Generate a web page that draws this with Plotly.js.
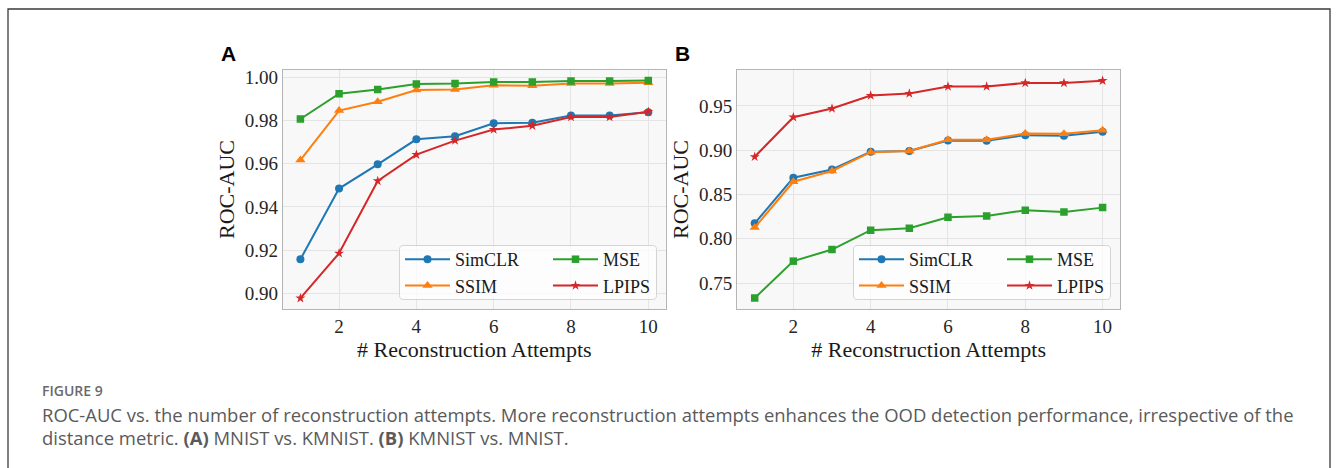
<!DOCTYPE html>
<html><head><meta charset="utf-8">
<script src="https://cdn.plot.ly/plotly-3.0.1.min.js"></script>
<style>html,body{margin:0;padding:0;background:#fff}#chart{width:1336px;height:468px}</style>
</head><body><div id="chart"></div>
<script>
// ---- data ----
const attempts = [1, 2, 3, 4, 5, 6, 7, 8, 9, 10];
const xTickVals = [2, 4, 6, 8, 10];
const seriesNames = ['SimCLR', 'SSIM', 'MSE', 'LPIPS'];
// Panel A: MNIST vs. KMNIST
const aSimCLR = [0.9157, 0.9485, 0.9597, 0.9713, 0.9727, 0.9787, 0.9790, 0.9823, 0.9823, 0.9838];
const aSSIM   = [0.9617, 0.9846, 0.9887, 0.9941, 0.9944, 0.9963, 0.9961, 0.9971, 0.9971, 0.9975];
const aMSE    = [0.9807, 0.9924, 0.9944, 0.9969, 0.9971, 0.9978, 0.9978, 0.9983, 0.9983, 0.9985];
const aLPIPS  = [0.8977, 0.9185, 0.9520, 0.9642, 0.9707, 0.9758, 0.9776, 0.9816, 0.9816, 0.9841];
// Panel B: KMNIST vs. MNIST
const bSimCLR = [0.8175, 0.8689, 0.8783, 0.8982, 0.8990, 0.9110, 0.9106, 0.9170, 0.9162, 0.9207];
const bSSIM   = [0.8127, 0.8644, 0.8765, 0.8978, 0.8990, 0.9117, 0.9117, 0.9189, 0.9185, 0.9226];
const bMSE    = [0.7331, 0.7748, 0.7879, 0.8097, 0.8119, 0.8243, 0.8258, 0.8322, 0.8303, 0.8352];
const bLPIPS  = [0.8926, 0.9372, 0.9470, 0.9616, 0.9639, 0.9718, 0.9718, 0.9759, 0.9759, 0.9785];
const panelLabels = ['A', 'B'];
const xTitle = '# Reconstruction Attempts';
const yTitle = 'ROC-AUC';
const figLabel = 'FIGURE 9';
const captionLine1 = 'ROC-AUC vs. the number of reconstruction attempts. More reconstruction attempts enhances the OOD detection performance, irrespective of the';
const captionLine2 = 'distance metric. <b>(A)</b> MNIST vs. KMNIST. <b>(B)</b> KMNIST vs. MNIST.';

// ---- styling ----
const W = 1336, H = 468;
const px = x => x / W;
const py = y => 1 - y / H;
const colors = ['#1f77b4', '#ff7f0e', '#2ca02c', '#d62728'];
const symbols = ['circle', 'triangle-up', 'square', 'star'];
const msizes = [8, 9, 7.5, 7.5];
const serif = 'Liberation Serif, Times New Roman, serif';

function mk(x, y, i, xa, ya, legend) {
  return {
    type: 'scatter', mode: 'lines+markers', x: x, y: y, name: seriesNames[i],
    xaxis: xa, yaxis: ya, legend: legend,
    line: {color: colors[i], width: 2},
    marker: {color: colors[i], symbol: symbols[i], size: msizes[i], line: {width: 0}},
    hoverinfo: 'x+y+name'
  };
}
const traces = [
  mk(attempts, aSimCLR, 0, 'x', 'y', 'legend'),
  mk(attempts, aSSIM, 1, 'x', 'y', 'legend'),
  mk(attempts, aMSE, 2, 'x', 'y', 'legend2'),
  mk(attempts, aLPIPS, 3, 'x', 'y', 'legend2'),
  mk(attempts, bSimCLR, 0, 'x2', 'y2', 'legend3'),
  mk(attempts, bSSIM, 1, 'x2', 'y2', 'legend3'),
  mk(attempts, bMSE, 2, 'x2', 'y2', 'legend4'),
  mk(attempts, bLPIPS, 3, 'x2', 'y2', 'legend4')
];

function xAxis(domain, anchor) {
  return {
    domain: domain, anchor: anchor, range: [0.55, 10.45], tickvals: xTickVals,
    showgrid: true, gridcolor: '#e4e4e4', gridwidth: 1, zeroline: false,
    showline: true, mirror: true, linecolor: '#b5b5b5', linewidth: 1.2,
    ticks: '', tickfont: {family: serif, size: 19, color: '#262626'},
    title: {text: xTitle, font: {family: serif, size: 22, color: '#1a1a1a'}, standoff: 1}
  };
}
function yAxis(domain, anchor, range, dtick, fmt) {
  return {
    domain: domain, anchor: anchor, range: range, dtick: dtick, tick0: 0, tickformat: fmt,
    showgrid: true, gridcolor: '#e4e4e4', gridwidth: 1, zeroline: false,
    showline: true, mirror: true, linecolor: '#b5b5b5', linewidth: 1.2,
    ticks: '', tickfont: {family: serif, size: 19, color: '#262626'},
    title: {text: yTitle, font: {family: serif, size: 22, color: '#1a1a1a'}, standoff: 4}
  };
}
function legendAt(x, y) {
  return {
    x: px(x), y: py(y), xanchor: 'left', yanchor: 'top', xref: 'paper', yref: 'paper',
    bgcolor: 'rgba(0,0,0,0)', borderwidth: 0, itemwidth: 45, tracegroupgap: 0,
    font: {family: serif, size: 18, color: '#1a1a1a'}, itemclick: false, itemdoubleclick: false
  };
}
function roundRect(x0, y0, x1, y1, r) {
  const X = v => px(v).toFixed(5), Y = v => py(v).toFixed(5);
  return 'M' + X(x0 + r) + ',' + Y(y0) + ' L' + X(x1 - r) + ',' + Y(y0) +
    ' Q' + X(x1) + ',' + Y(y0) + ' ' + X(x1) + ',' + Y(y0 + r) +
    ' L' + X(x1) + ',' + Y(y1 - r) +
    ' Q' + X(x1) + ',' + Y(y1) + ' ' + X(x1 - r) + ',' + Y(y1) +
    ' L' + X(x0 + r) + ',' + Y(y1) +
    ' Q' + X(x0) + ',' + Y(y1) + ' ' + X(x0) + ',' + Y(y1 - r) +
    ' L' + X(x0) + ',' + Y(y0 + r) +
    ' Q' + X(x0) + ',' + Y(y0) + ' ' + X(x0 + r) + ',' + Y(y0) + ' Z';
}

const yDom = [py(309), py(70)];
const layout = {
  width: W, height: H, margin: {l: 0, r: 0, t: 0, b: 0},
  paper_bgcolor: '#ffffff', plot_bgcolor: '#f8f8f8', showlegend: true,
  xaxis: xAxis([px(283), px(665.7)], 'y'),
  yaxis: yAxis(yDom, 'x', [0.8927, 1.0034], 0.02, '.2f'),
  xaxis2: xAxis([px(737.3), px(1120)], 'y2'),
  yaxis2: yAxis(yDom, 'x2', [0.7208, 0.9905], 0.05, '.2f'),
  legend: legendAt(400, 241),
  legend2: legendAt(548, 241),
  legend3: legendAt(854, 241),
  legend4: legendAt(1002, 241),
  shapes: [
    {type: 'rect', xref: 'paper', yref: 'paper', x0: px(8), x1: px(1330), y0: py(500), y1: py(9),
     line: {color: '#3a3a3a', width: 1.3}, fillcolor: 'rgba(0,0,0,0)', layer: 'below'},
    {type: 'path', xref: 'paper', yref: 'paper', path: roundRect(399.5, 245.5, 656.5, 299.5, 4),
     line: {color: '#d4d4d4', width: 1}, fillcolor: 'rgba(255,255,255,0.75)', layer: 'above'},
    {type: 'path', xref: 'paper', yref: 'paper', path: roundRect(853.5, 245.5, 1110.5, 299.5, 4),
     line: {color: '#d4d4d4', width: 1}, fillcolor: 'rgba(255,255,255,0.75)', layer: 'above'}
  ],
  annotations: [
    {text: '<b>' + panelLabels[0] + '</b>', xref: 'paper', yref: 'paper', x: px(219), y: py(53),
     xanchor: 'left', yanchor: 'middle', showarrow: false,
     font: {family: 'Liberation Sans, Arial, sans-serif', size: 21, color: '#000'}},
    {text: '<b>' + panelLabels[1] + '</b>', xref: 'paper', yref: 'paper', x: px(673), y: py(53),
     xanchor: 'left', yanchor: 'middle', showarrow: false,
     font: {family: 'Liberation Sans, Arial, sans-serif', size: 21, color: '#000'}},
    {text: figLabel, xref: 'paper', yref: 'paper', x: px(40), y: py(390),
     xanchor: 'left', yanchor: 'middle', showarrow: false,
     font: {family: 'Open Sans, sans-serif', size: 14, color: '#6a6a6a', weight: 600}},
    {text: captionLine1, xref: 'paper', yref: 'paper', x: px(40), y: py(414),
     xanchor: 'left', yanchor: 'middle', showarrow: false, align: 'left',
     font: {family: 'Open Sans, sans-serif', size: 18.45, color: '#5a5a5a'}},
    {text: captionLine2, xref: 'paper', yref: 'paper', x: px(40), y: py(437),
     xanchor: 'left', yanchor: 'middle', showarrow: false, align: 'left',
     font: {family: 'Open Sans, sans-serif', size: 18.45, color: '#5a5a5a'}}
  ]
};

Plotly.newPlot('chart', traces, layout, {staticPlot: true, displayModeBar: false});
</script>
</body></html>
